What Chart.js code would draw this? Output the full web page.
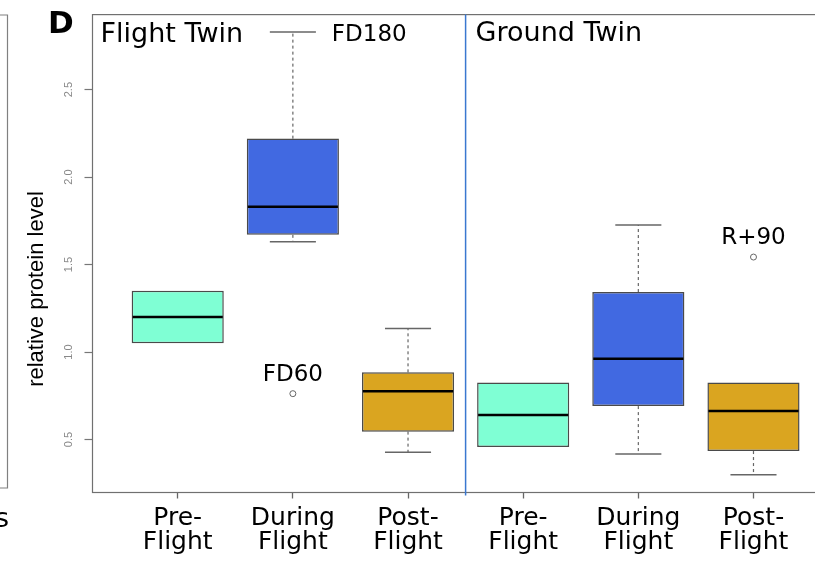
<!DOCTYPE html>
<html lang="en">
<head>
<meta charset="UTF-8">
<title>Relative protein level - Flight Twin vs Ground Twin</title>
<script src="https://cdn.jsdelivr.net/npm/chart.js"></script>
<style>
  html, body { margin: 0; padding: 0; background: #fff; overflow: hidden; }
  #wrap { position: relative; width: 850px; height: 563px; }
</style>
</head>
<body>
<div id="wrap"><canvas id="chart"></canvas></div>
<script>
// Box statistics, one entry per box (x = 1..6)
const groups = ['Flight Twin', 'Ground Twin'];
const stageLabels = [['Pre-', 'Flight'], ['During', 'Flight'], ['Post-', 'Flight']];
const boxColors = ['#7fffd4', '#4169e1', '#daa520'];

const lowWhisker  = [1.05, 1.63, 0.427, 0.457, 0.417, 0.298];
const q1          = [1.05, 1.67, 0.545, 0.457, 0.691, 0.434];
const median      = [1.20, 1.83, 0.776, 0.640, 0.961, 0.663];
const q3          = [1.35, 2.22, 0.884, 0.826, 1.343, 0.826];
const highWhisker = [1.35, 2.83, 1.135, 0.826, 1.726, 0.826];
const whiskerNotes = ['', 'FD180', '', '', '', ''];

const outlierX = [2, 6];
const outlierY = [0.762, 1.543];
const outlierNames = ['FD60', 'R+90'];

const yTicks = [0.5, 1.0, 1.5, 2.0, 2.5];

// axis limits as R pads them (4% beyond the data / box range)
const Y_MIN = 0.197, Y_MAX = 2.929;
const X_MIN = 0.26, X_MAX = 6.74;

const boxIdx = median.map((_, i) => i + 1);

const boxPlot = {
  id: 'boxPlot',
  beforeDatasetsDraw(chart) {
    const { ctx, scales: { x, y } } = chart;
    const bars = chart.getDatasetMeta(0).data;
    ctx.save();
    ctx.strokeStyle = '#666';
    boxIdx.forEach((v, i) => {
      const cx = x.getPixelForValue(v);
      const half = bars[i].width / 4;
      [[q3[i], highWhisker[i]], [q1[i], lowWhisker[i]]].forEach(([edge, w]) => {
        if (edge === w) return; // whisker sits on the box edge
        const p0 = y.getPixelForValue(edge);
        const p1 = y.getPixelForValue(w);
        ctx.setLineDash([3, 3]);
        ctx.lineWidth = 1.2;
        ctx.beginPath();
        ctx.moveTo(cx, p0);
        ctx.lineTo(cx, p1);
        ctx.stroke();
        ctx.setLineDash([]);
        ctx.lineWidth = 1.5;
        ctx.beginPath();
        ctx.moveTo(cx - half, p1);
        ctx.lineTo(cx + half, p1);
        ctx.stroke();
      });
    });
    ctx.restore();
  },
  afterDatasetsDraw(chart) {
    const { ctx, scales: { x, y } } = chart;
    const bars = chart.getDatasetMeta(0).data;
    ctx.save();
    ctx.strokeStyle = '#000';
    ctx.lineWidth = 2.5;
    boxIdx.forEach((v, i) => {
      const cx = x.getPixelForValue(v);
      const half = bars[i].width / 2 - 1;
      const py = y.getPixelForValue(median[i]);
      ctx.beginPath();
      ctx.moveTo(cx - half, py);
      ctx.lineTo(cx + half, py);
      ctx.stroke();
    });
    ctx.restore();
  },
  afterDraw(chart) {
    const { ctx, chartArea: a, scales: { x, y } } = chart;
    ctx.save();
    // plot frame
    ctx.strokeStyle = '#707070';
    ctx.lineWidth = 1.2;
    ctx.strokeRect(a.left, a.top, a.right - a.left, a.bottom - a.top);
    // divider between the twins
    const dx = x.getPixelForValue(3.5);
    ctx.strokeStyle = '#3a78d0';
    ctx.lineWidth = 1.5;
    ctx.beginPath();
    ctx.moveTo(dx, a.top);
    ctx.lineTo(dx, a.bottom + 3);
    ctx.stroke();
    // edge of the neighbouring panel
    ctx.strokeStyle = '#808080';
    ctx.lineWidth = 1.2;
    ctx.beginPath();
    ctx.moveTo(0, 15); ctx.lineTo(7.5, 15); ctx.lineTo(7.5, 488); ctx.lineTo(0, 488);
    ctx.stroke();

    ctx.fillStyle = '#000';
    ctx.textBaseline = 'alphabetic';
    ctx.textAlign = 'left';
    ctx.font = 'bold 31px "DejaVu Sans"';
    ctx.fillText('D', 48, 33);
    ctx.font = '27px "DejaVu Sans"';
    ctx.fillText(groups[0], a.left + 8, a.top + 27);
    ctx.fillText(groups[1], dx + 10, a.top + 26);
    ctx.textAlign = 'right';
    ctx.fillText('s', 9, 527);

    // labels on outliers and the long whisker
    ctx.font = '23px "DejaVu Sans"';
    ctx.textAlign = 'center';
    outlierX.forEach((v, i) => {
      ctx.fillText(outlierNames[i], x.getPixelForValue(v), y.getPixelForValue(outlierY[i]) - 13);
    });
    ctx.textAlign = 'left';
    whiskerNotes.forEach((t, i) => {
      if (!t) return;
      ctx.fillText(t, x.getPixelForValue(i + 1) + 39, y.getPixelForValue(highWhisker[i]) + 9);
    });

    // y axis title
    ctx.translate(37, 289);
    ctx.rotate(-Math.PI / 2);
    ctx.textAlign = 'center';
    ctx.textBaseline = 'middle';
    ctx.font = '22px "Liberation Sans"';
    ctx.fillText('relative protein level', 0, 0);
    ctx.restore();
  }
};

new Chart(document.getElementById('chart'), {
  data: {
    datasets: [
      {
        type: 'bar',
        data: boxIdx.map((v, i) => ({ x: v, y: [q1[i], q3[i]] })),
        backgroundColor: boxIdx.map((v, i) => boxColors[i % 3]),
        borderColor: '#4a4a4a',
        borderWidth: 1.5,
        borderSkipped: false,
        barPercentage: 0.8,
        categoryPercentage: 1.0
      },
      {
        type: 'scatter',
        data: outlierX.map((v, i) => ({ x: v, y: outlierY[i] })),
        pointRadius: 3,
        borderColor: '#666',
        borderWidth: 1,
        backgroundColor: 'rgba(0,0,0,0)'
      }
    ]
  },
  options: {
    responsive: true,
    maintainAspectRatio: false,
    animation: false,
    layout: { padding: { top: 6, right: 11.3, left: 0, bottom: 0 } },
    plugins: { legend: { display: false }, tooltip: { enabled: false } },
    scales: {
      x: {
        type: 'linear',
        offset: false,
        min: X_MIN,
        max: X_MAX,
        afterBuildTicks: s => { s.ticks = boxIdx.map(v => ({ value: v })); },
        afterFit: s => { s.height = 70.5; },
        grid: { drawOnChartArea: false, offset: false, tickLength: 6, tickWidth: 1.3, color: '#666' },
        border: { display: false },
        ticks: {
          autoSkip: false,
          maxRotation: 0,
          padding: 8,
          color: '#000',
          font: { family: 'DejaVu Sans', size: 25, lineHeight: 0.97 },
          callback: v => stageLabels[(v - 1) % 3]
        }
      },
      y: {
        type: 'linear',
        min: Y_MIN,
        max: Y_MAX,
        afterBuildTicks: s => { s.ticks = yTicks.map(v => ({ value: v })); },
        afterFit: s => { s.width = 92.5; },
        grid: { drawOnChartArea: false, tickLength: 8, tickWidth: 1.2, color: '#777' },
        border: { display: false },
        ticks: {
          minRotation: 90,
          maxRotation: 90,
          crossAlign: 'center',
          padding: 8,
          color: '#888',
          font: { family: 'Liberation Sans', size: 11 },
          callback: v => v.toFixed(1)
        }
      }
    }
  },
  plugins: [boxPlot]
});
</script>
</body>
</html>
